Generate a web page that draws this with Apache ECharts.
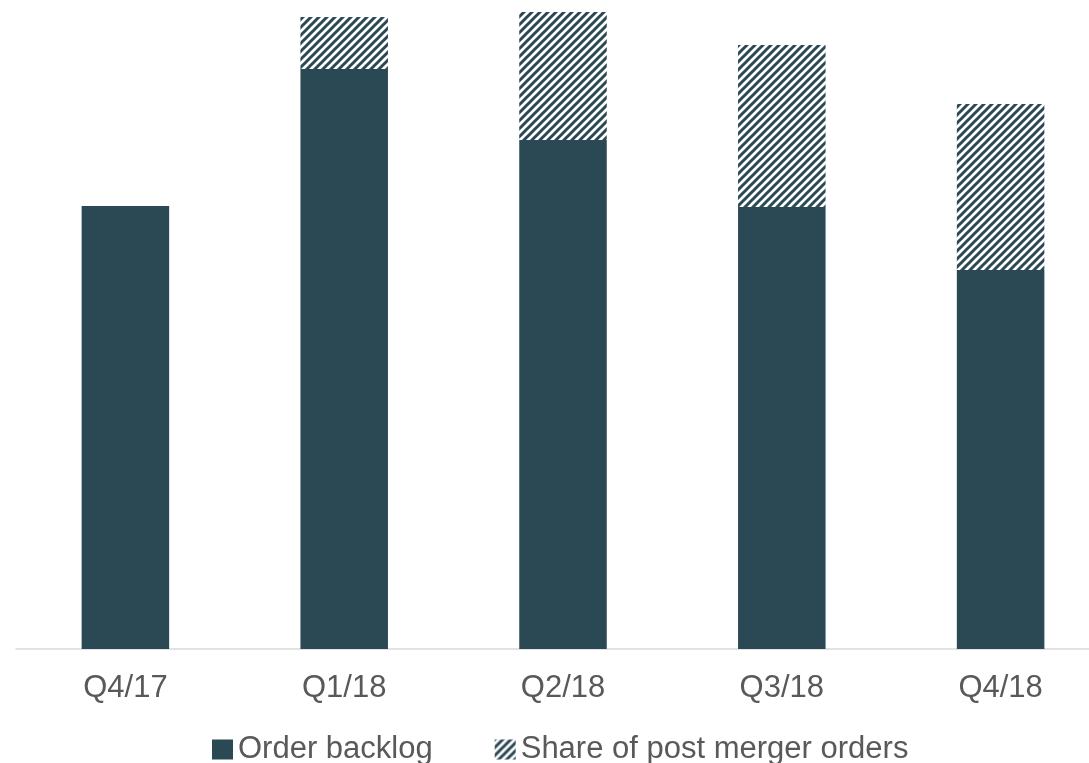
<!DOCTYPE html>
<html>
<head>
<meta charset="utf-8">
<script src="https://cdn.jsdelivr.net/npm/echarts@6/dist/echarts.min.js"></script>
<style>
  html, body { margin: 0; padding: 0; background: #fff; overflow: hidden; }
  /* plot area runs a little past the right edge, like the original */
  #chart { width: 1110px; height: 763px; }
</style>
</head>
<body>
<div id="chart"></div>
<script>
// data (arbitrary units)
var categories = ["Q4/17", "Q1/18", "Q2/18", "Q3/18", "Q4/18"];
var orderBacklog = [443, 580, 509, 442, 379];
var postMerger = [0, 52, 128, 162, 166];

var dark = "#2B4954";

// hatch tile, upward diagonal stripes
var tile = document.createElement("canvas");
tile.width = 8;
tile.height = 8;
var ctx = tile.getContext("2d");
ctx.fillStyle = "#fff";
ctx.fillRect(0, 0, 8, 8);
ctx.strokeStyle = dark;
ctx.lineWidth = 3;
ctx.beginPath();
ctx.moveTo(-2, 10); ctx.lineTo(10, -2);
ctx.moveTo(-6, 6); ctx.lineTo(6, -6);
ctx.moveTo(2, 14); ctx.lineTo(14, 2);
ctx.stroke();

var hatch = { image: tile, repeat: "repeat" };

var myChart = echarts.init(document.getElementById("chart"));
myChart.setOption({
  animation: false,
  grid: { left: 16, right: 0, top: 0, bottom: 114 },
  legend: {
    top: 729,
    left: 207,
    itemWidth: 21,
    itemHeight: 20,
    itemGap: 62,
    textStyle: { fontFamily: "Liberation Sans, Arial", fontSize: 31, color: "#595959" },
    data: [
      { name: "Order backlog", icon: "rect" },
      { name: "Share of post merger orders", icon: "rect" }
    ]
  },
  xAxis: {
    type: "category",
    data: categories,
    axisLine: { lineStyle: { color: "#D9D9D9", width: 1.5 } },
    axisTick: { show: false },
    axisLabel: { fontFamily: "Liberation Sans, Arial", fontSize: 31, color: "#595959", margin: 24 }
  },
  yAxis: {
    type: "value",
    min: 0,
    max: 649,
    show: false,
    splitLine: { show: false }
  },
  series: [
    {
      name: "Order backlog",
      type: "bar",
      stack: "total",
      barWidth: "40%",
      itemStyle: { color: dark },
      data: orderBacklog
    },
    {
      name: "Share of post merger orders",
      type: "bar",
      stack: "total",
      barWidth: "40%",
      itemStyle: { color: hatch },
      data: postMerger
    }
  ]
});
</script>
</body>
</html>
